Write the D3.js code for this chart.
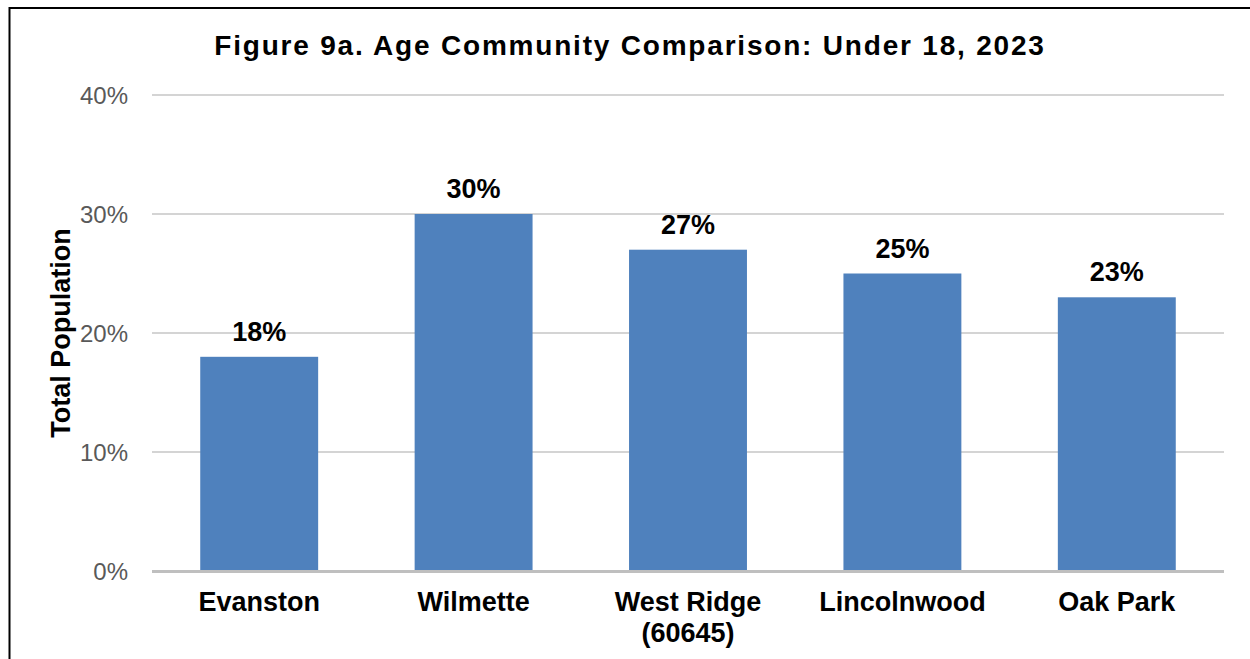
<!DOCTYPE html>
<html><head><meta charset="utf-8">
<script src="https://cdn.jsdelivr.net/npm/d3@7"></script>
<style>body{margin:0;background:#fff}svg{display:block}</style>
</head><body>
<svg id="c" width="1250" height="659"></svg>
<script>
const categories = ["Evanston", "Wilmette", "West Ridge (60645)", "Lincolnwood", "Oak Park"];
const categoryLines = [["Evanston"], ["Wilmette"], ["West Ridge", "(60645)"], ["Lincolnwood"], ["Oak Park"]];
const values = [18, 30, 27, 25, 23];
const yTicks = [0, 10, 20, 30, 40];
const title = "Figure 9a. Age Community Comparison: Under 18, 2023";
const yTitle = "Total Population";

const svg = d3.select("#c");
const font = "'Liberation Sans', Arial, sans-serif";

// frame
svg.append("path").attr("d", "M9.5,660 L9.5,8 L1260,8")
  .attr("fill", "none").attr("stroke", "#000").attr("stroke-width", 2);

const mLeft = 152, mRight = 1224, mTop = 95, mBottom = 571;
const x = d3.scaleBand().domain(categories).range([mLeft, mRight]).paddingInner(0.45).paddingOuter(0.225);
const y = d3.scaleLinear().domain([0, 40]).range([mBottom, mTop]);

// gridlines
svg.append("g").selectAll("line").data(yTicks.filter(d => d > 0)).join("line")
  .attr("x1", mLeft).attr("x2", mRight)
  .attr("y1", d => y(d)).attr("y2", d => y(d))
  .attr("stroke", "#c6c6c6").attr("stroke-width", 1.5);

// y axis labels
const yAxis = d3.axisLeft(y).tickValues(yTicks).tickFormat(d => d + "%").tickSize(0).tickPadding(24);
const gy = svg.append("g").attr("transform", `translate(${mLeft},0)`).call(yAxis);
gy.select(".domain").remove();
gy.selectAll("text").attr("font-family", font).attr("font-size", 24).attr("fill", "#595959").attr("dy", "0.35em");

// bars
svg.append("g").selectAll("rect").data(values).join("rect")
  .attr("x", (d, i) => x(categories[i]))
  .attr("width", x.bandwidth())
  .attr("y", d => y(d))
  .attr("height", d => y(0) - y(d))
  .attr("fill", "#4f81bd");

// baseline
svg.append("line").attr("x1", mLeft).attr("x2", mRight).attr("y1", y(0) + 0.5).attr("y2", y(0) + 0.5)
  .attr("stroke", "#bfbfbf").attr("stroke-width", 3);

// value labels
svg.append("g").selectAll("text").data(values).join("text")
  .attr("x", (d, i) => x(categories[i]) + x.bandwidth() / 2)
  .attr("y", d => y(d) - 16)
  .attr("text-anchor", "middle")
  .attr("font-family", font).attr("font-weight", "bold").attr("font-size", 27).attr("fill", "#000")
  .text(d => d + "%");

// category labels
const xAxis = d3.axisBottom(x).tickSize(0).tickFormat("");
const gx = svg.append("g").attr("transform", `translate(0,${mBottom})`).call(xAxis);
gx.select(".domain").remove();
gx.selectAll(".tick").each(function (d, i) {
  const t = d3.select(this).append("text")
    .attr("text-anchor", "middle").attr("fill", "#000")
    .attr("font-family", font).attr("font-weight", "bold").attr("font-size", 27)
    .attr("y", 40);
  categoryLines[i].forEach((ln, j) => {
    t.append("tspan").attr("x", 0).attr("dy", j === 0 ? 0 : 31).text(ln);
  });
});

// title
svg.append("text").attr("x", 630).attr("y", 55).attr("text-anchor", "middle")
  .attr("font-family", font).attr("font-weight", "bold").attr("font-size", 28)
  .attr("letter-spacing", "1.8px").attr("fill", "#000").text(title);

// y title
svg.append("text").attr("transform", "translate(70,333) rotate(-90)").attr("text-anchor", "middle")
  .attr("font-family", font).attr("font-weight", "bold").attr("font-size", 27).attr("fill", "#000")
  .text(yTitle);
</script>
</body></html>
